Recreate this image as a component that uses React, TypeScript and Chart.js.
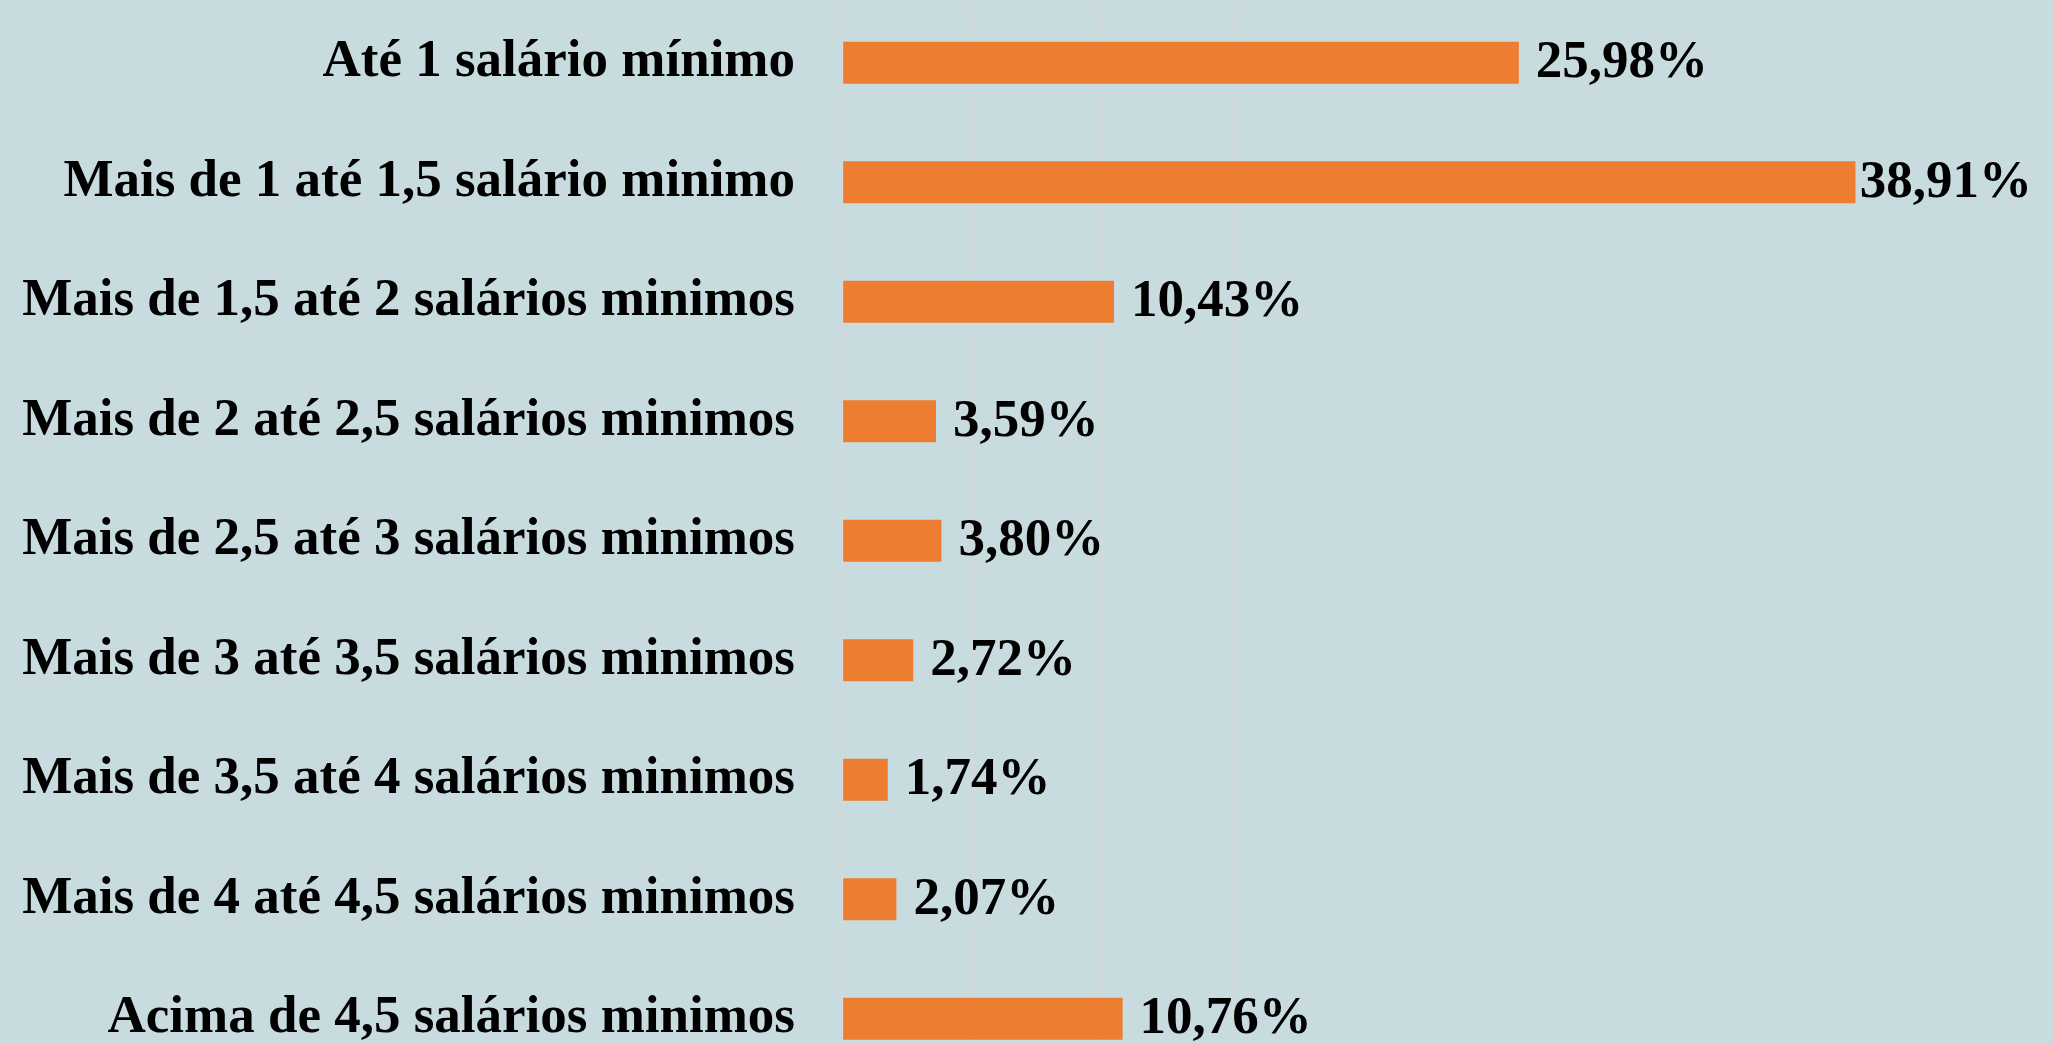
import React, { useEffect, useRef } from "react";
import { Chart, registerables } from "chart.js";

Chart.register(...registerables);

const categories: string[] = [
  "Até 1 salário mínimo",
  "Mais de 1 até 1,5 salário minimo",
  "Mais de 1,5 até 2 salários minimos",
  "Mais de 2 até 2,5 salários minimos",
  "Mais de 2,5 até 3 salários minimos",
  "Mais de 3 até 3,5 salários minimos",
  "Mais de 3,5 até 4 salários minimos",
  "Mais de 4 até 4,5 salários minimos",
  "Acima de 4,5 salários minimos",
];

const percentages: number[] = [25.98, 38.91, 10.43, 3.59, 3.8, 2.72, 1.74, 2.07, 10.76];

const xMin = 0;
const xMax = 45;
const xStep = 5;

const FONT_FAMILY = '"Liberation Serif", "Times New Roman", serif';
const BG = "rgb(200,220,224)";
const BAR = "#ED7D31";

const formatPct = (v: number) => v.toFixed(2).replace(".", ",") + "%";

const valueLabelPlugin = {
  id: "valueLabels",
  afterDatasetsDraw(chart: any) {
    const ctx = chart.ctx;
    const meta = chart.getDatasetMeta(0);
    const rightLimit = chart.width - 21;
    ctx.save();
    ctx.font = `bold 53px ${FONT_FAMILY}`;
    ctx.fillStyle = "#000";
    ctx.textAlign = "left";
    ctx.textBaseline = "middle";
    meta.data.forEach((bar: any, i: number) => {
      const v = chart.data.datasets[0].data[i] as number;
      const txt = formatPct(v);
      const w = ctx.measureText(txt).width;
      const x = Math.min(bar.x + 17, rightLimit - w);
      ctx.fillText(txt, x, bar.y + 1);
    });
    ctx.restore();
  },
};

export default function App() {
  const ref = useRef<HTMLCanvasElement | null>(null);

  useEffect(() => {
    if (!ref.current) return;
    const chart = new Chart(ref.current, {
      type: "bar",
      data: {
        labels: categories,
        datasets: [
          {
            data: percentages,
            backgroundColor: BAR,
            borderWidth: 0,
            categoryPercentage: 1,
            barPercentage: 0.352,
          },
        ],
      },
      options: {
        indexAxis: "y",
        animation: false,
        responsive: false,
        devicePixelRatio: 1,
        layout: { padding: { top: 3, bottom: 1.5, left: 0, right: 39 } },
        plugins: {
          legend: { display: false },
          tooltip: { enabled: false },
        },
        scales: {
          x: {
            min: xMin,
            max: xMax,
            ticks: { stepSize: xStep, display: false },
            grid: { color: "#D6D9D9", lineWidth: 1.3, drawTicks: false },
            border: { display: false },
            afterFit: (scale: any) => {
              scale.height = 0;
              scale.paddingLeft = 0;
              scale.paddingRight = 0;
            },
          },
          y: {
            afterFit: (scale: any) => {
              scale.width = 842.5;
              scale.paddingTop = 0;
              scale.paddingBottom = 0;
            },
            ticks: {
              autoSkip: false,
              padding: 47.5,
              color: "#000",
              font: { family: FONT_FAMILY, size: 53, weight: "bold" },
            },
            grid: { display: false, drawTicks: false },
            border: { display: false },
          },
        },
      },
      plugins: [valueLabelPlugin],
    });
    return () => chart.destroy();
  }, []);

  return (
    <div
      style={{
        position: "fixed",
        top: 0,
        left: 0,
        width: 2053,
        height: 1044,
        overflow: "hidden",
        background: BG,
      }}
    >
      <canvas ref={ref} width={2053} height={1080} style={{ display: "block" }} />
    </div>
  );
}
